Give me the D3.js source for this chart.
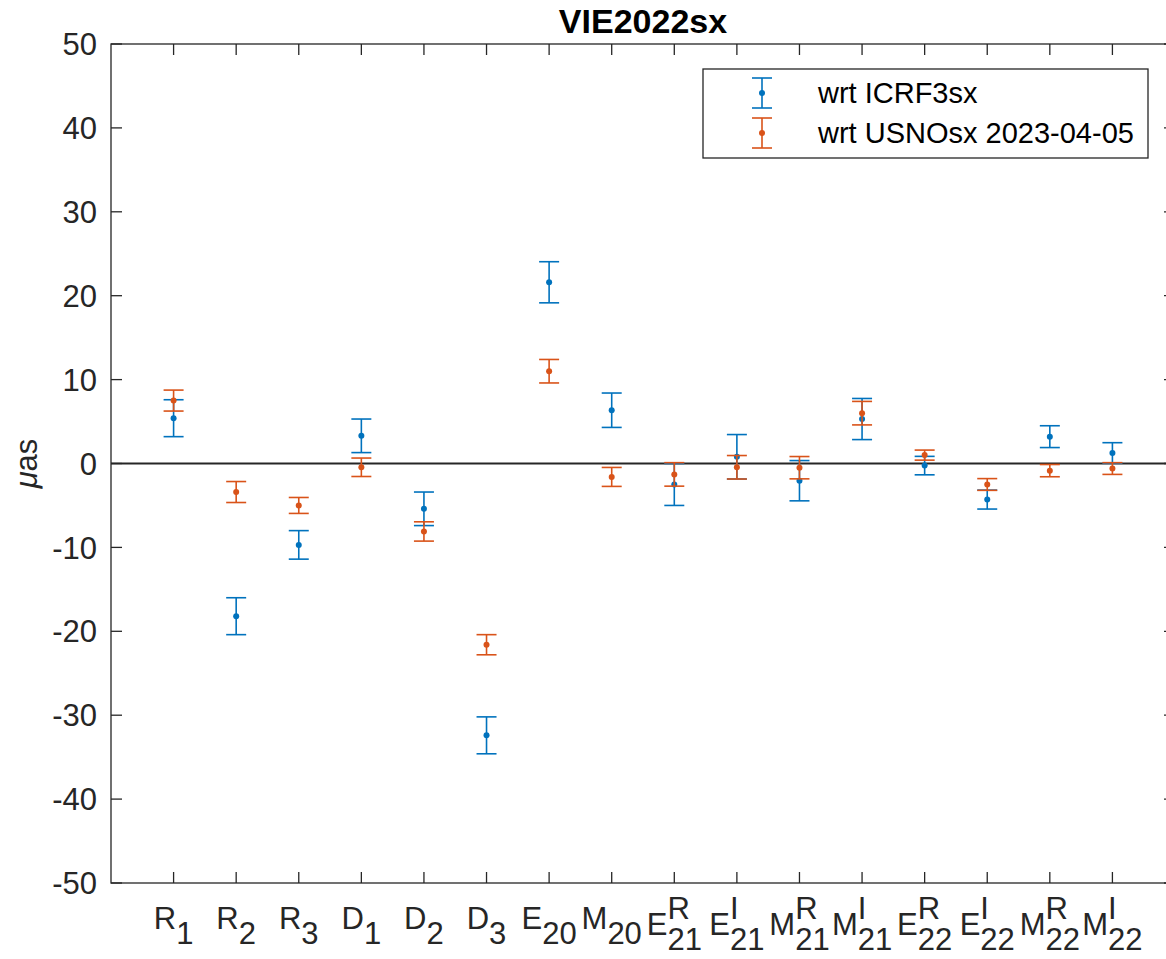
<!DOCTYPE html>
<html>
<head>
<meta charset="utf-8">
<script src="https://cdn.jsdelivr.net/npm/d3@7"></script>
<style>
  body { margin: 0; background: #fff; }
  text { font-family: "Liberation Sans", Arial, sans-serif; fill: #262626; }
</style>
</head>
<body>
<script>
// parameter names: main letter, superscript, subscript
const mainLetters = ['R','R','R','D','D','D','E','M','E','E','M','M','E','E','M','M']
const supers      = ['','','','','','','','','R','I','R','I','R','I','R','I']
const subs        = ['1','2','3','1','2','3','20','20','21','21','21','21','22','22','22','22']

// wrt ICRF3sx
const icrfVal = [5.4, -18.2, -9.7, 3.3, -5.4, -32.4, 21.6, 6.35, -2.5, 0.8, -2.05, 5.3, -0.25, -4.3, 3.2, 1.25]
const icrfErr = [2.2, 2.2, 1.7, 2.0, 2.0, 2.2, 2.45, 2.05, 2.5, 2.65, 2.4, 2.45, 1.1, 1.13, 1.3, 1.23]
// wrt USNOsx 2023-04-05
const usnoVal = [7.5, -3.4, -5.0, -0.45, -8.1, -21.6, 11.0, -1.6, -1.3, -0.45, -0.5, 6.0, 1.0, -2.5, -0.85, -0.6]
const usnoErr = [1.25, 1.25, 0.95, 1.1, 1.15, 1.2, 1.4, 1.13, 1.4, 1.4, 1.33, 1.4, 0.6, 0.7, 0.73, 0.7]

const yTicks = [-50, -40, -30, -20, -10, 0, 10, 20, 30, 40, 50]

const m = { width: 1166, height: 959, left: 111, right: 1175, top: 44, bottom: 883 }
const axisColor = '#262626'
const blue = '#0072BD', orange = '#D95319'

const svg = d3.select('body').append('svg')
    .attr('width', m.width)
    .attr('height', m.height)

const x = d3.scaleLinear().domain([0, mainLetters.length + 1]).range([m.left, m.right])
const y = d3.scaleLinear().domain([-50, 50]).range([m.bottom, m.top])

// axes box
svg.append('rect')
    .attr('x', m.left).attr('y', m.top)
    .attr('width', m.right - m.left).attr('height', m.bottom - m.top)
    .attr('fill', 'none').attr('stroke', axisColor).attr('stroke-width', 1.3)

const tickLen = 11
const idx = d3.range(1, mainLetters.length + 1)

// x ticks, bottom and top, pointing in
svg.append('g').selectAll('line')
    .data(idx).enter().append('line')
    .attr('x1', d => x(d)).attr('x2', d => x(d))
    .attr('y1', m.bottom).attr('y2', m.bottom - tickLen)
    .attr('stroke', axisColor).attr('stroke-width', 1.3)
svg.append('g').selectAll('line')
    .data(idx).enter().append('line')
    .attr('x1', d => x(d)).attr('x2', d => x(d))
    .attr('y1', m.top).attr('y2', m.top + tickLen)
    .attr('stroke', axisColor).attr('stroke-width', 1.3)

// y ticks left and right
svg.append('g').selectAll('line')
    .data(yTicks).enter().append('line')
    .attr('x1', m.left).attr('x2', m.left + tickLen)
    .attr('y1', d => y(d)).attr('y2', d => y(d))
    .attr('stroke', axisColor).attr('stroke-width', 1.3)
svg.append('g').selectAll('line')
    .data(yTicks).enter().append('line')
    .attr('x1', m.right).attr('x2', m.right - tickLen)
    .attr('y1', d => y(d)).attr('y2', d => y(d))
    .attr('stroke', axisColor).attr('stroke-width', 1.3)

// y tick labels
svg.append('g').selectAll('text')
    .data(yTicks).enter().append('text')
    .attr('x', m.left - 14)
    .attr('y', d => y(d))
    .attr('dy', '0.36em')
    .attr('text-anchor', 'end')
    .style('font-size', '31px')
    .text(d => d)

// x tick labels with sub/superscripts (same size, like matlab tex)
idx.forEach(function(d, i) {
    const g = svg.append('g')
    const hasSup = supers[i] !== ''
    const base = m.bottom + (hasSup ? 52 : 46)
    const t = g.append('text').attr('x', 0).attr('y', base)
        .style('font-size', '31px').text(mainLetters[i])
    const w1 = t.node().getComputedTextLength()
    const sb = g.append('text').attr('x', w1).attr('y', base + 15)
        .style('font-size', '31px').text(subs[i])
    let w2 = sb.node().getComputedTextLength()
    if (hasSup) {
        const sp = g.append('text').attr('x', w1).attr('y', base - 16)
            .style('font-size', '31px').text(supers[i])
        w2 = Math.max(w2, sp.node().getComputedTextLength())
    }
    g.attr('transform', 'translate(' + (x(d) - (w1 + w2) / 2) + ',0)')
})

// y label
svg.append('text')
    .attr('transform', 'translate(37,' + y(0) + ') rotate(-90)')
    .attr('text-anchor', 'middle')
    .style('font-size', '31px')
    .html('<tspan font-style="italic">\u03bc</tspan>as')

// title
svg.append('text')
    .attr('x', (m.left + m.right) / 2)
    .attr('y', 33)
    .attr('text-anchor', 'middle')
    .style('font-size', '34px')
    .style('font-weight', 'bold')
    .style('fill', '#000')
    .text('VIE2022sx')

// zero line
svg.append('line')
    .attr('x1', m.left).attr('x2', m.right)
    .attr('y1', y(0)).attr('y2', y(0))
    .attr('stroke', '#262626').attr('stroke-width', 2)

const capW = 10
function drawSeries(vals, errs, color) {
    const g = svg.append('g')
    const pts = g.selectAll('g').data(vals).enter().append('g')
    pts.append('line')
        .attr('x1', (d, i) => x(i + 1)).attr('x2', (d, i) => x(i + 1))
        .attr('y1', (d, i) => y(d + errs[i])).attr('y2', (d, i) => y(d - errs[i]))
        .attr('stroke', color).attr('stroke-width', 1.6)
    pts.append('line')
        .attr('x1', (d, i) => x(i + 1) - capW).attr('x2', (d, i) => x(i + 1) + capW)
        .attr('y1', (d, i) => y(d + errs[i])).attr('y2', (d, i) => y(d + errs[i]))
        .attr('stroke', color).attr('stroke-width', 1.6)
    pts.append('line')
        .attr('x1', (d, i) => x(i + 1) - capW).attr('x2', (d, i) => x(i + 1) + capW)
        .attr('y1', (d, i) => y(d - errs[i])).attr('y2', (d, i) => y(d - errs[i]))
        .attr('stroke', color).attr('stroke-width', 1.6)
    pts.append('circle')
        .attr('cx', (d, i) => x(i + 1))
        .attr('cy', d => y(d))
        .attr('r', 3)
        .attr('fill', color)
}
drawSeries(icrfVal, icrfErr, blue)
drawSeries(usnoVal, usnoErr, orange)

// legend
const leg = svg.append('g')
leg.append('rect')
    .attr('x', 703).attr('y', 69).attr('width', 445).attr('height', 89)
    .attr('fill', '#fff').attr('stroke', axisColor).attr('stroke-width', 1.3)
const legItems = [
    { name: 'wrt ICRF3sx', color: blue },
    { name: 'wrt USNOsx 2023-04-05', color: orange }
]
legItems.forEach(function(it, i) {
    const cy = 93 + i * 40
    const cx = 762
    leg.append('line').attr('x1', cx).attr('x2', cx).attr('y1', cy - 15).attr('y2', cy + 15)
        .attr('stroke', it.color).attr('stroke-width', 1.6)
    leg.append('line').attr('x1', cx - capW).attr('x2', cx + capW).attr('y1', cy - 15).attr('y2', cy - 15)
        .attr('stroke', it.color).attr('stroke-width', 1.6)
    leg.append('line').attr('x1', cx - capW).attr('x2', cx + capW).attr('y1', cy + 15).attr('y2', cy + 15)
        .attr('stroke', it.color).attr('stroke-width', 1.6)
    leg.append('circle').attr('cx', cx).attr('cy', cy).attr('r', 3).attr('fill', it.color)
    leg.append('text').attr('x', 818).attr('y', cy).attr('dy', '0.36em')
        .style('font-size', '29px').style('fill', '#000').text(it.name)
})
</script>
</body>
</html>
